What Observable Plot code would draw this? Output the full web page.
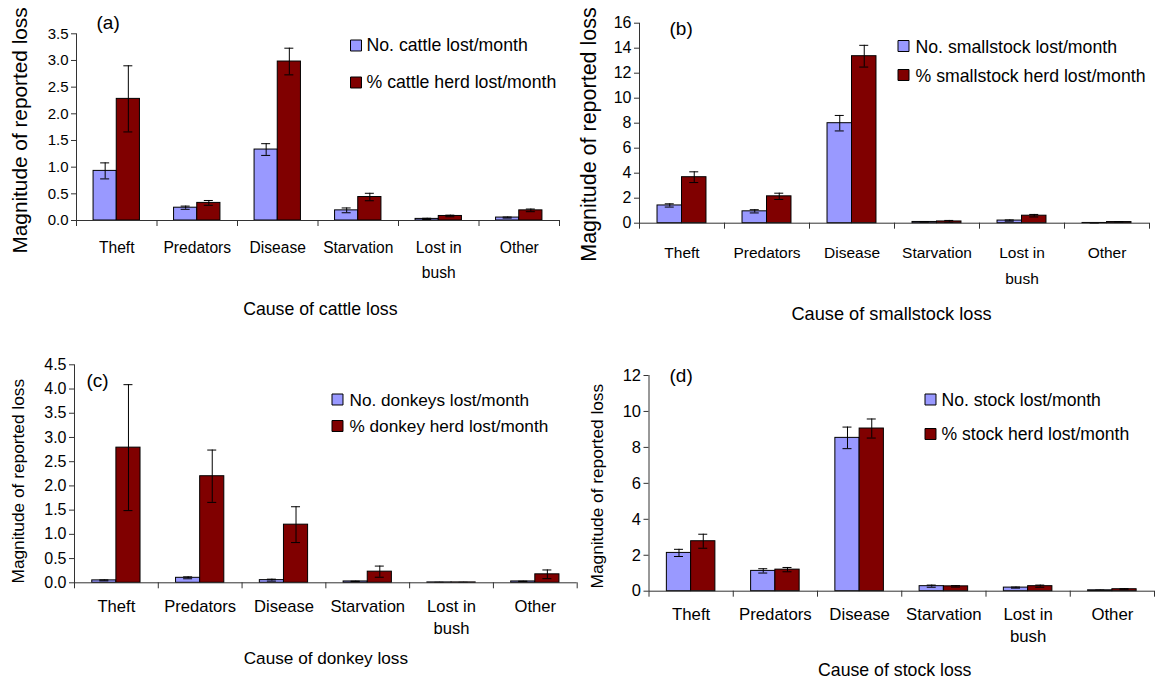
<!DOCTYPE html>
<html>
<head>
<meta charset="utf-8">
<script src="https://cdn.jsdelivr.net/npm/d3@7"></script>
<script src="https://cdn.jsdelivr.net/npm/@observablehq/plot@0.6"></script>
<style>
  html, body { margin: 0; padding: 0; background: #fff; }
  body { font-family: "Liberation Sans", Arial, sans-serif; }
  #wrap { position: relative; width: 1155px; height: 678px; overflow: hidden; }
  .panel { position: absolute; }
  .panel svg { overflow: visible; }
</style>
</head>
<body>
<div id="wrap"></div>
<script>
// ---------- data ----------
const causes = ["Theft", "Predators", "Disease", "Starvation", "Lost in bush", "Other"];
const causeLabels = ["Theft", "Predators", "Disease", "Starvation", "Lost in\nbush", "Other"];
const seriesColors = ["#9999ff", "#800000"];
const yTitle = "Magnitude of reported loss";

// (a) cattle
const cattleSeries = ["No. cattle lost/month", "% cattle herd lost/month"];
const cattleNo = [0.93, 0.24, 1.33, 0.19, 0.03, 0.055];
const cattleNoErr = [0.15, 0.03, 0.11, 0.045, 0.012, 0.01];
const cattlePct = [2.28, 0.33, 2.98, 0.44, 0.085, 0.19];
const cattlePctErr = [0.62, 0.045, 0.25, 0.07, 0.015, 0.025];
const cattleTicks = [0, 0.5, 1.0, 1.5, 2.0, 2.5, 3.0, 3.5];

// (b) smallstock
const smallSeries = ["No. smallstock lost/month", "% smallstock herd lost/month"];
const smallNo = [1.42, 0.95, 8.0, 0.1, 0.21, 0.02];
const smallNoErr = [0.13, 0.13, 0.62, 0.03, 0.05, 0.01];
const smallPct = [3.68, 2.15, 13.36, 0.14, 0.6, 0.09];
const smallPctErr = [0.43, 0.25, 0.87, 0.08, 0.1, 0.02];
const smallTicks = [0, 2, 4, 6, 8, 10, 12, 14, 16];

// (c) donkeys
const donkeySeries = ["No. donkeys lost/month", "% donkey herd lost/month"];
const donkeyNo = [0.05, 0.103, 0.055, 0.028, 0.008, 0.028];
const donkeyNoErr = [0.01, 0.02, 0.02, 0.005, 0.002, 0.005];
const donkeyPct = [2.79, 2.2, 1.2, 0.23, 0.008, 0.175];
const donkeyPctErr = [1.3, 0.54, 0.37, 0.115, 0.002, 0.09];
const donkeyTicks = [0, 0.5, 1.0, 1.5, 2.0, 2.5, 3.0, 3.5, 4.0, 4.5];

// (d) all stock
const stockSeries = ["No. stock lost/month", "% stock herd lost/month"];
const stockNo = [2.13, 1.13, 8.53, 0.28, 0.2, 0.05];
const stockNoErr = [0.2, 0.12, 0.6, 0.06, 0.03, 0.01];
const stockPct = [2.78, 1.2, 9.05, 0.27, 0.28, 0.11];
const stockPctErr = [0.39, 0.12, 0.53, 0.04, 0.06, 0.03];
const stockTicks = [0, 2, 4, 6, 8, 10, 12];

// ---------- layout ----------
const FONT = "'Liberation Sans', Arial, Helvetica, sans-serif";

const panels = [
  {label: "(a)", left: 0, top: 0, width: 580, height: 330, ml: 76, mr: 21, mt: 33.3, mb: 110,
   series: cattleSeries, no: cattleNo, noErr: cattleNoErr, pct: cattlePct, pctErr: cattlePctErr,
   ticks: cattleTicks, fmt: ".1f", xTitle: "Cause of cattle loss",
   tickFs: 15, catFs: 15.6, catLH: 1.56, catDy: 15.4,
   legFs: 17.7, legSqX: 279.5, legSqY: [11.7, 48.7], legTX: 290, legTY: [17.4, 54],
   labDx: 20, labDy: -5.3, labFs: 19,
   ytFs: 20.8, ytDx: -56.5, ytDy: 3.3,
   xtFs: 17.7, xtDx: 2.3, xtDy: 94},
  {label: "(b)", left: 580, top: 0, width: 575, height: 330, ml: 59, mr: 6, mt: 22.7, mb: 107.3,
   series: smallSeries, no: smallNo, noErr: smallNoErr, pct: smallPct, pctErr: smallPctErr,
   ticks: smallTicks, fmt: "d", xTitle: "Cause of smallstock loss",
   tickFs: 16, catFs: 15.5, catLH: 1.68, catDy: 16.1,
   legFs: 17.7, legSqX: 264, legSqY: [22.8, 51.8], legTX: 276, legTY: [30, 59],
   labDx: 30, labDy: 11.8, labFs: 19,
   ytFs: 21.5, ytDx: -50, ytDy: 11.3,
   xtFs: 18.2, xtDx: -3, xtDy: 96.3},
  {label: "(c)", left: 0, top: 330, width: 580, height: 348, ml: 74, mr: 3.3, mt: 34.3, mb: 95.7,
   series: donkeySeries, no: donkeyNo, noErr: donkeyNoErr, pct: donkeyPct, pctErr: donkeyPctErr,
   ticks: donkeyTicks, fmt: ".1f", xTitle: "Cause of donkey loss",
   tickFs: 16, catFs: 16.6, catLH: 1.3, catDy: 14.1,
   legFs: 17.2, legSqX: 263, legSqY: [34.7, 61.2], legTX: 275, legTY: [40.7, 66.7],
   labDx: 12, labDy: 22, labFs: 19,
   ytFs: 17.3, ytDx: -56.5, ytDy: 7.4,
   xtFs: 17.2, xtDx: 0, xtDy: 80.7},
  {label: "(d)", left: 580, top: 330, width: 575, height: 348, ml: 68.5, mr: 1, mt: 45, mb: 87.3,
   series: stockSeries, no: stockNo, noErr: stockNoErr, pct: stockPct, pctErr: stockPctErr,
   ticks: stockTicks, fmt: "d", xTitle: "Cause of stock loss",
   tickFs: 16.5, catFs: 16.8, catLH: 1.29, catDy: 13.9,
   legFs: 17.6, legSqX: 281.5, legSqY: [24, 58.5], legTX: 292.5, legTY: [30, 64],
   labDx: 20.5, labDy: 6, labFs: 19,
   ytFs: 17.3, ytDx: -52, ytDy: 2.8,
   xtFs: 17.7, xtDx: -7, xtDy: 84.3}
];

function buildPanel(p) {
  const fw = p.width - p.ml - p.mr;
  const step = fw / causes.length;
  const bw = step * 0.288;
  const gap = step * 0.212;
  const cap = 9;
  const ymax = p.ticks[p.ticks.length - 1];
  const rows = (vals, errs) => causes.map((c, i) => ({cause: c, value: vals[i], err: errs[i]}));
  const sets = [rows(p.no, p.noErr), rows(p.pct, p.pctErr)];
  const marks = [];

  // bars
  sets.forEach((data, k) => {
    const left = gap + k * bw;
    marks.push(Plot.barY(data, {
      x: "cause", y: "value", fill: seriesColors[k], stroke: "#000", strokeWidth: 1,
      insetLeft: left, insetRight: step - left - bw
    }));
  });
  // error bars
  sets.forEach((data, k) => {
    const left = gap + k * bw;
    const c = left + bw / 2;
    marks.push(Plot.ruleX(data, {
      x: "cause", y1: d => Math.max(0, d.value - d.err), y2: d => d.value + d.err,
      dx: c - step / 2, stroke: "#000", strokeWidth: 1
    }));
    for (const sgn of [1, -1]) {
      marks.push(Plot.tickY(data, {
        x: "cause", y: d => Math.max(0, d.value + sgn * d.err),
        insetLeft: c - cap / 2, insetRight: step - c - cap / 2, stroke: "#000", strokeWidth: 1
      }));
    }
  });
  // x axis line and category boundary ticks
  marks.push(Plot.ruleY([0], {stroke: "#333", strokeWidth: 1}));
  marks.push(Plot.ruleX(causes, {x: d => d, dx: step / 2, y1: 0, y2: 0, insetTop: 6, stroke: "#333", strokeWidth: 1}));
  // y axis line (extends into first boundary tick)
  marks.push(Plot.ruleX([causes[0]], {x: d => d, dx: -step / 2, y1: 0, y2: ymax, insetTop: 6, stroke: "#333", strokeWidth: 1}));
  marks.push(Plot.axisY({
    ticks: p.ticks, tickFormat: d3.format(p.fmt), tickSize: 5, tickPadding: 3,
    fontSize: p.tickFs, label: null, stroke: "#333"
  }));
  // category labels
  marks.push(Plot.text(causes, {
    x: d => d, text: (d, i) => causeLabels[i], frameAnchor: "bottom", lineAnchor: "top",
    dy: p.catDy, fontSize: p.catFs, lineHeight: p.catLH, fill: "#000"
  }));
  // axis titles
  marks.push(Plot.text([yTitle], {
    text: d => d, frameAnchor: "left", rotate: -90, dx: p.ytDx, dy: p.ytDy,
    fontSize: p.ytFs, textAnchor: "middle", lineAnchor: "middle", fill: "#000"
  }));
  marks.push(Plot.text([p.xTitle], {
    text: d => d, frameAnchor: "bottom", dx: p.xtDx, dy: p.xtDy,
    fontSize: p.xtFs, lineAnchor: "bottom", fill: "#000"
  }));
  // panel label
  marks.push(Plot.text([p.label], {
    text: d => d, frameAnchor: "top-left", dx: p.labDx, dy: p.labDy,
    fontSize: p.labFs, textAnchor: "start", lineAnchor: "bottom", fill: "#000"
  }));
  // legend
  p.series.forEach((s, k) => {
    marks.push(Plot.dot([s], {
      frameAnchor: "top-left", dx: p.legSqX, dy: p.legSqY[k], symbol: "square", r: 6.2,
      fill: seriesColors[k], stroke: "#000", strokeWidth: 1
    }));
    marks.push(Plot.text([s], {
      text: d => d, frameAnchor: "top-left", dx: p.legTX, dy: p.legTY[k],
      fontSize: p.legFs, textAnchor: "start", lineAnchor: "bottom", fill: "#000"
    }));
  });

  return Plot.plot({
    width: p.width, height: p.height,
    marginLeft: p.ml, marginRight: p.mr, marginTop: p.mt, marginBottom: p.mb,
    x: {domain: causes, padding: 0, round: false, axis: null},
    y: {domain: [0, ymax], label: null},
    style: {fontFamily: FONT, color: "#000", background: "transparent", overflow: "visible"},
    marks
  });
}

const wrap = document.getElementById("wrap");
for (const p of panels) {
  const div = document.createElement("div");
  div.className = "panel";
  div.style.left = p.left + "px";
  div.style.top = p.top + "px";
  div.style.width = p.width + "px";
  div.style.height = p.height + "px";
  div.appendChild(buildPanel(p));
  wrap.appendChild(div);
}
</script>
</body>
</html>
